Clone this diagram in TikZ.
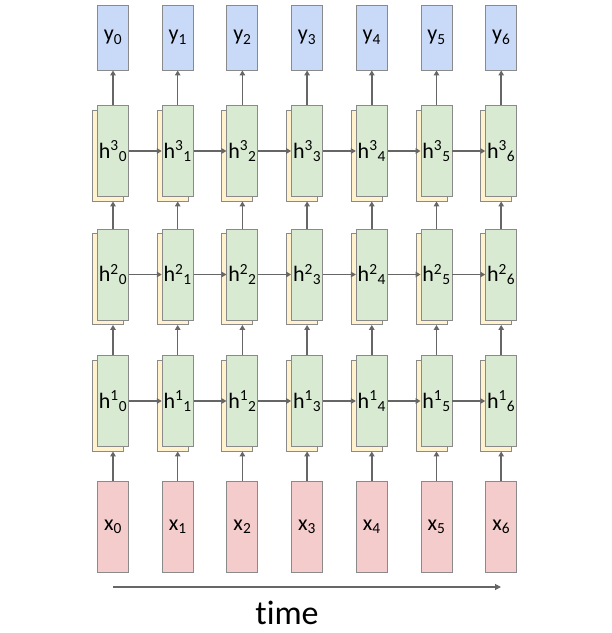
\documentclass[tikz,border=0pt]{standalone}
\usepackage{fontspec}
\setmainfont{Carlito}[Ligatures=NoCommon]
\usetikzlibrary{arrows.meta,shadows}
\definecolor{yblue}{HTML}{C9DAF8}
\definecolor{hgreen}{HTML}{D9EAD3}
\definecolor{xpink}{HTML}{F4CCCC}
\definecolor{syellow}{HTML}{FFF2CC}
\definecolor{bgray}{HTML}{8A8A8A}
\definecolor{agray}{HTML}{666666}
\tikzset{
  cell/.style={draw=bgray, line width=0.9pt, minimum width=31pt, inner sep=0pt, font=\fontsize{22}{24}\selectfont},
  ybox/.style={cell, fill=yblue, minimum height=65pt},
  xbox/.style={cell, fill=xpink, minimum height=91pt},
  hbox/.style={cell, fill=hgreen, minimum height=91pt,
     copy shadow={shadow xshift=-5pt, shadow yshift=-4.5pt, fill=syellow, draw=bgray, line width=0.9pt}},
  conn/.style={draw=agray, line width=1.5pt, -{Triangle[length=5pt,width=5.5pt]}},
}
\begin{document}
\begin{tikzpicture}[x=1pt,y=-1pt]
\useasboundingbox (0,0) rectangle (612,633);
\foreach \i in {0,...,6}{
  \pgfmathsetmacro{\cx}{113+64.7*\i}
  \node[ybox] (y\i) at (\cx,37.5) {y\textsubscript{\i}};
  \node[hbox] (hc\i) at (\cx,151) {h\textsuperscript{3}\textsubscript{\i}};
  \node[hbox] (hb\i) at (\cx,274.5) {h\textsuperscript{2}\textsubscript{\i}};
  \node[hbox] (ha\i) at (\cx,401) {h\textsuperscript{1}\textsubscript{\i}};
  \node[xbox] (x\i) at (\cx,526.5) {x\textsubscript{\i}};
}
\foreach \i in {0,...,6}{
  \draw[conn] (x\i.north) -- ([yshift=-4.5pt]ha\i.south);
  \draw[conn] (ha\i.north) -- ([yshift=-4.5pt]hb\i.south);
  \draw[conn] (hb\i.north) -- ([yshift=-4.5pt]hc\i.south);
  \draw[conn] (hc\i.north) -- (y\i.south);
}
\foreach \i/\j in {0/1,1/2,2/3,3/4,4/5,5/6}{
  \draw[conn] (ha\i.east) -- (ha\j.west);
  \draw[conn] (hb\i.east) -- (hb\j.west);
  \draw[conn] (hc\i.east) -- (hc\j.west);
}
\coordinate (t0) at (113,587);
\coordinate (t1) at (501,587);
\draw[draw=agray, line width=1.2pt, -{Triangle[length=6pt,width=6pt]}] (t0) -- (t1);
\node[font=\fontsize{34}{36}\selectfont, inner sep=0pt, anchor=base] (time) at (287,624) {time};
\end{tikzpicture}
\end{document}
